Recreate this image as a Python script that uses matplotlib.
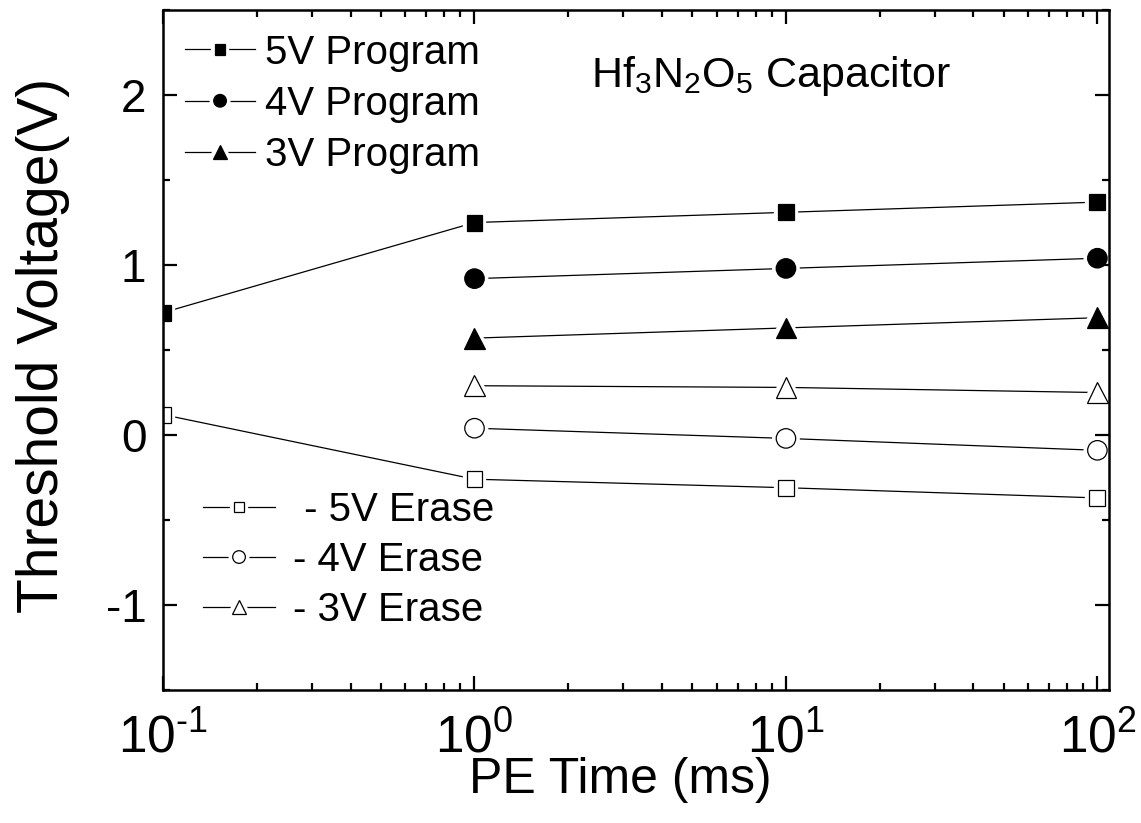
import numpy as np
import matplotlib
matplotlib.use("Agg")
import matplotlib.pyplot as plt
import matplotlib.patheffects as pe
from matplotlib.ticker import FixedLocator, MultipleLocator, LogLocator, NullFormatter

plt.rcParams['font.family'] = ['Liberation Sans', 'DejaVu Sans']
plt.rcParams['mathtext.fontset'] = 'custom'
plt.rcParams['mathtext.rm'] = 'Liberation Sans'
plt.rcParams['mathtext.it'] = 'Liberation Sans'
plt.rcParams['axes.unicode_minus'] = False

# PE time (ms)
t_long = [0.1, 1, 10, 100]
t_short = [1, 10, 100]

# threshold voltage (V)
prog_5v = [0.72, 1.25, 1.31, 1.37]
prog_4v = [0.92, 0.98, 1.04]
prog_3v = [0.57, 0.63, 0.69]
erase_5v = [0.12, -0.26, -0.31, -0.37]
erase_4v = [0.04, -0.02, -0.09]
erase_3v = [0.29, 0.28, 0.25]

xtick_vals = [0.1, 1, 10, 100]
xtick_labels = ['$10^{\u20101}$', '$10^{0}$', '$10^{1}$', '$10^{2}$']
ytick_vals = [-1, 0, 1, 2]

fig = plt.figure(figsize=(11.41, 8.23), dpi=100)
ax = fig.add_axes([0.1429, 0.1616, 0.9720 - 0.1429, 0.9878 - 0.1616])

# white halo round the markers leaves the small gap between line and symbol
halo = [pe.withStroke(linewidth=6, foreground='white')]
common = dict(color='black', lw=0.9, markeredgewidth=0.9, path_effects=halo)

p5, = ax.plot(t_long, prog_5v, marker='s', ms=11.5, mfc='black', mec='black', label='5V Program', **common)
p4, = ax.plot(t_short, prog_4v, marker='o', ms=14, mfc='black', mec='black', label='4V Program', **common)
p3, = ax.plot(t_short, prog_3v, marker='^', ms=15, mfc='black', mec='black', label='3V Program', **common)
e5, = ax.plot(t_long, erase_5v, marker='s', ms=11.5, mfc='white', mec='black', label=' - 5V Erase', **common)
e4, = ax.plot(t_short, erase_4v, marker='o', ms=14, mfc='white', mec='black', label='- 4V Erase', **common)
e3, = ax.plot(t_short, erase_3v, marker='^', ms=15, mfc='white', mec='black', label='- 3V Erase', **common)

ax.set_xscale('log')
ax.set_xlim(0.1, 109)
ax.set_ylim(-1.5, 2.5)

ax.xaxis.set_major_locator(FixedLocator(xtick_vals))
ax.set_xticklabels(xtick_labels)
ax.xaxis.set_minor_locator(LogLocator(base=10, subs=np.arange(2, 10)))
ax.xaxis.set_minor_formatter(NullFormatter())
ax.yaxis.set_major_locator(FixedLocator(ytick_vals))
ax.yaxis.set_minor_locator(MultipleLocator(0.5))

ax.set_axisbelow(False)
for s in ax.spines.values():
    s.set_linewidth(1.8)
ax.tick_params(which='both', direction='in', top=True, right=True, width=1.6)
ax.tick_params(which='major', length=10)
ax.tick_params(which='minor', length=5)
ax.tick_params(axis='x', which='major', labelsize=37, pad=17)
ax.tick_params(axis='y', which='major', labelsize=33, pad=12)

ax.set_xlabel('PE Time (ms)', fontsize=36, labelpad=-5, x=0.483)
ax.set_ylabel('Threshold Voltage(V)', fontsize=41, labelpad=26, y=0.507)

ax.text(0.642, 0.903, 'Hf$_3$N$_2$O$_5$ Capacitor', transform=ax.transAxes,
        ha='center', va='center', fontsize=31)

leg1 = ax.legend(handles=[p5, p4, p3], loc='center left', bbox_to_anchor=(0.023, 0.862),
                 frameon=False, fontsize=29, markerscale=0.65, handlelength=1.75,
                 handletextpad=0.25, labelspacing=0.33, borderpad=0, borderaxespad=0)
ax.add_artist(leg1)
ax.legend(handles=[e5, e4, e3], loc='center left', bbox_to_anchor=(0.042, 0.191),
          frameon=False, fontsize=29, markerscale=0.65, handlelength=1.8,
          handletextpad=0.45, labelspacing=0.3, borderpad=0, borderaxespad=0)

fig.savefig('out.png', dpi=100)
